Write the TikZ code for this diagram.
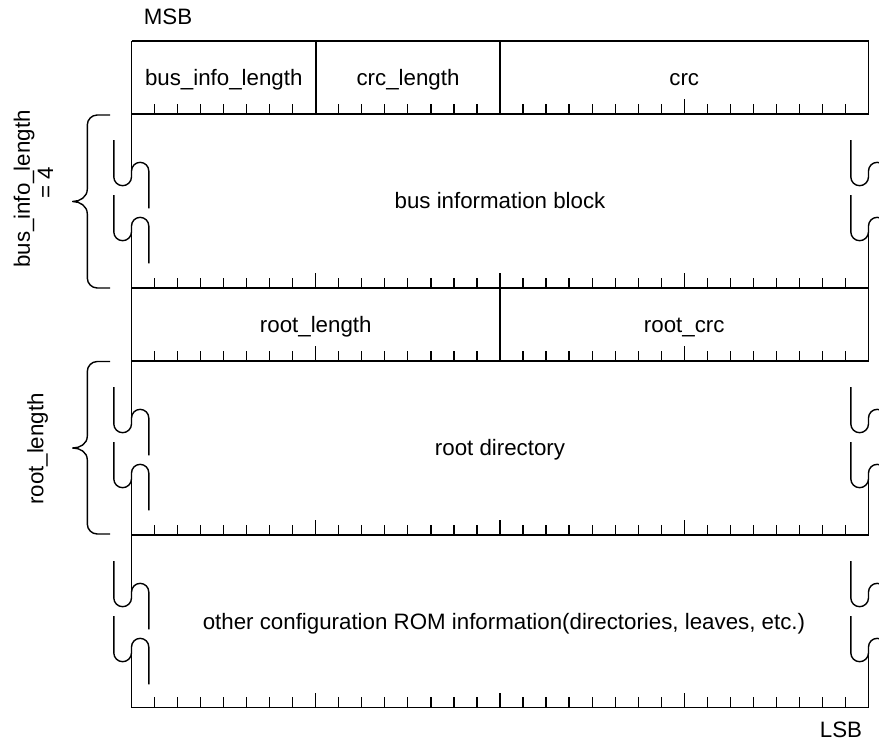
\documentclass[tikz,border=0pt]{standalone}
\usepackage{fontspec}
\setmainfont{Liberation Sans}
\begin{document}
\begin{tikzpicture}[x=1pt,y=1pt,
  frame/.style={line width=1.4pt, line cap=butt},
  tickline/.style={line width=1.2pt},
  lbl/.style={inner sep=0pt, anchor=base, font=\fontsize{22.3pt}{26pt}\selectfont},
  bracestyle/.style={line width=1.4pt, line join=round}]
\useasboundingbox (0,0) rectangle (879,-744);
\clip (0,0) rectangle (879,-744);
\newcommand\BreakMark[2]{%
  \draw[frame] (#1,-#2) -- ++(0,-36.85) arc[start angle=180,end angle=360,radius=8.85pt]
    -- ++(0,5.85) arc[start angle=180,end angle=0,radius=8.65pt] -- ++(0,-37.3);}
% horizontal lines
\foreach \yy in {41,114,288,361,535,707.5}
  \draw[frame] (131.5,-\yy) -- (868.5,-\yy);
% ticks
\foreach \yy in {114,288,361,535,707.5}{
  \foreach \k in {1,...,31}{
    \pgfmathsetmacro\tx{131.5+\k*23.03125}
    \pgfmathsetmacro\th{mod(\k,8)==0 ? 15 : 10.5}
    \draw[tickline] (\tx,-\yy) -- ++(0,\th);
  }}
% dividers
\draw[frame] (316,-41) -- (316,-114);
\draw[frame] (500,-41) -- (500,-114);
\draw[frame] (500,-288) -- (500,-361);
% left frame segments
\draw[frame] (131.5,-41) -- (131.5,-171);
\draw[frame] (131.5,-231.85) -- (131.5,-418);
\draw[frame] (131.5,-478.85) -- (131.5,-592);
\draw[frame] (131.5,-652.85) -- (131.5,-707.5);
% right frame segments
\draw[frame] (868.5,-41) -- (868.5,-114);
\draw[frame] (868.5,-231.85) -- (868.5,-361);
\draw[frame] (868.5,-478.85) -- (868.5,-535);
\draw[frame] (868.5,-652.85) -- (868.5,-707.5);
% break marks
\foreach \yy in {140,195,387,442,561,616}{
  \BreakMark{113.8}{\yy}
  \BreakMark{850.8}{\yy}
}
% braces
\draw[bracestyle] (110,-115) -- (97.3,-115) arc[start angle=90,end angle=180,radius=10pt]
  -- (87.3,-189) .. controls (87.3,-197) and (80,-201.5) .. (72.7,-201.5)
  .. controls (80,-201.5) and (87.3,-206) .. (87.3,-214)
  -- (87.3,-278) arc[start angle=180,end angle=270,radius=10pt] -- (110,-288);
\draw[bracestyle] (110,-361.5) -- (97.3,-361.5) arc[start angle=90,end angle=180,radius=10pt]
  -- (87.3,-436) .. controls (87.3,-444) and (80,-448) .. (72.7,-448)
  .. controls (80,-448) and (87.3,-452) .. (87.3,-460)
  -- (87.3,-524) arc[start angle=180,end angle=270,radius=10pt] -- (110,-534);
% texts
\node[lbl] (msb) at (168,-24) {MSB};
\node[lbl] (lsb) at (841,-737) {LSB};
\node[lbl] (bil) at (223.75,-85) {bus\_info\_length};
\node[lbl] (crcl) at (408,-85) {crc\_length};
\node[lbl] (crc) at (684.25,-85) {crc};
\node[lbl] (bib) at (500,-208.5) {bus information block};
\node[lbl] (rl) at (315.75,-332) {root\_length};
\node[lbl] (rc) at (684.25,-332) {root\_crc};
\node[lbl] (rd) at (500,-455.5) {root directory};
\node[lbl] (other) at (504,-629) {other configuration ROM information(directories, leaves, etc.)};
\node[lbl, rotate=90] (bl1) at (30,-189) {bus\_info\_length};
\node[lbl, rotate=90] (bl2) at (53,-183) {= 4};
\node[lbl, rotate=90] (rlen) at (43.3,-449) {root\_length};
\end{tikzpicture}
\end{document}
